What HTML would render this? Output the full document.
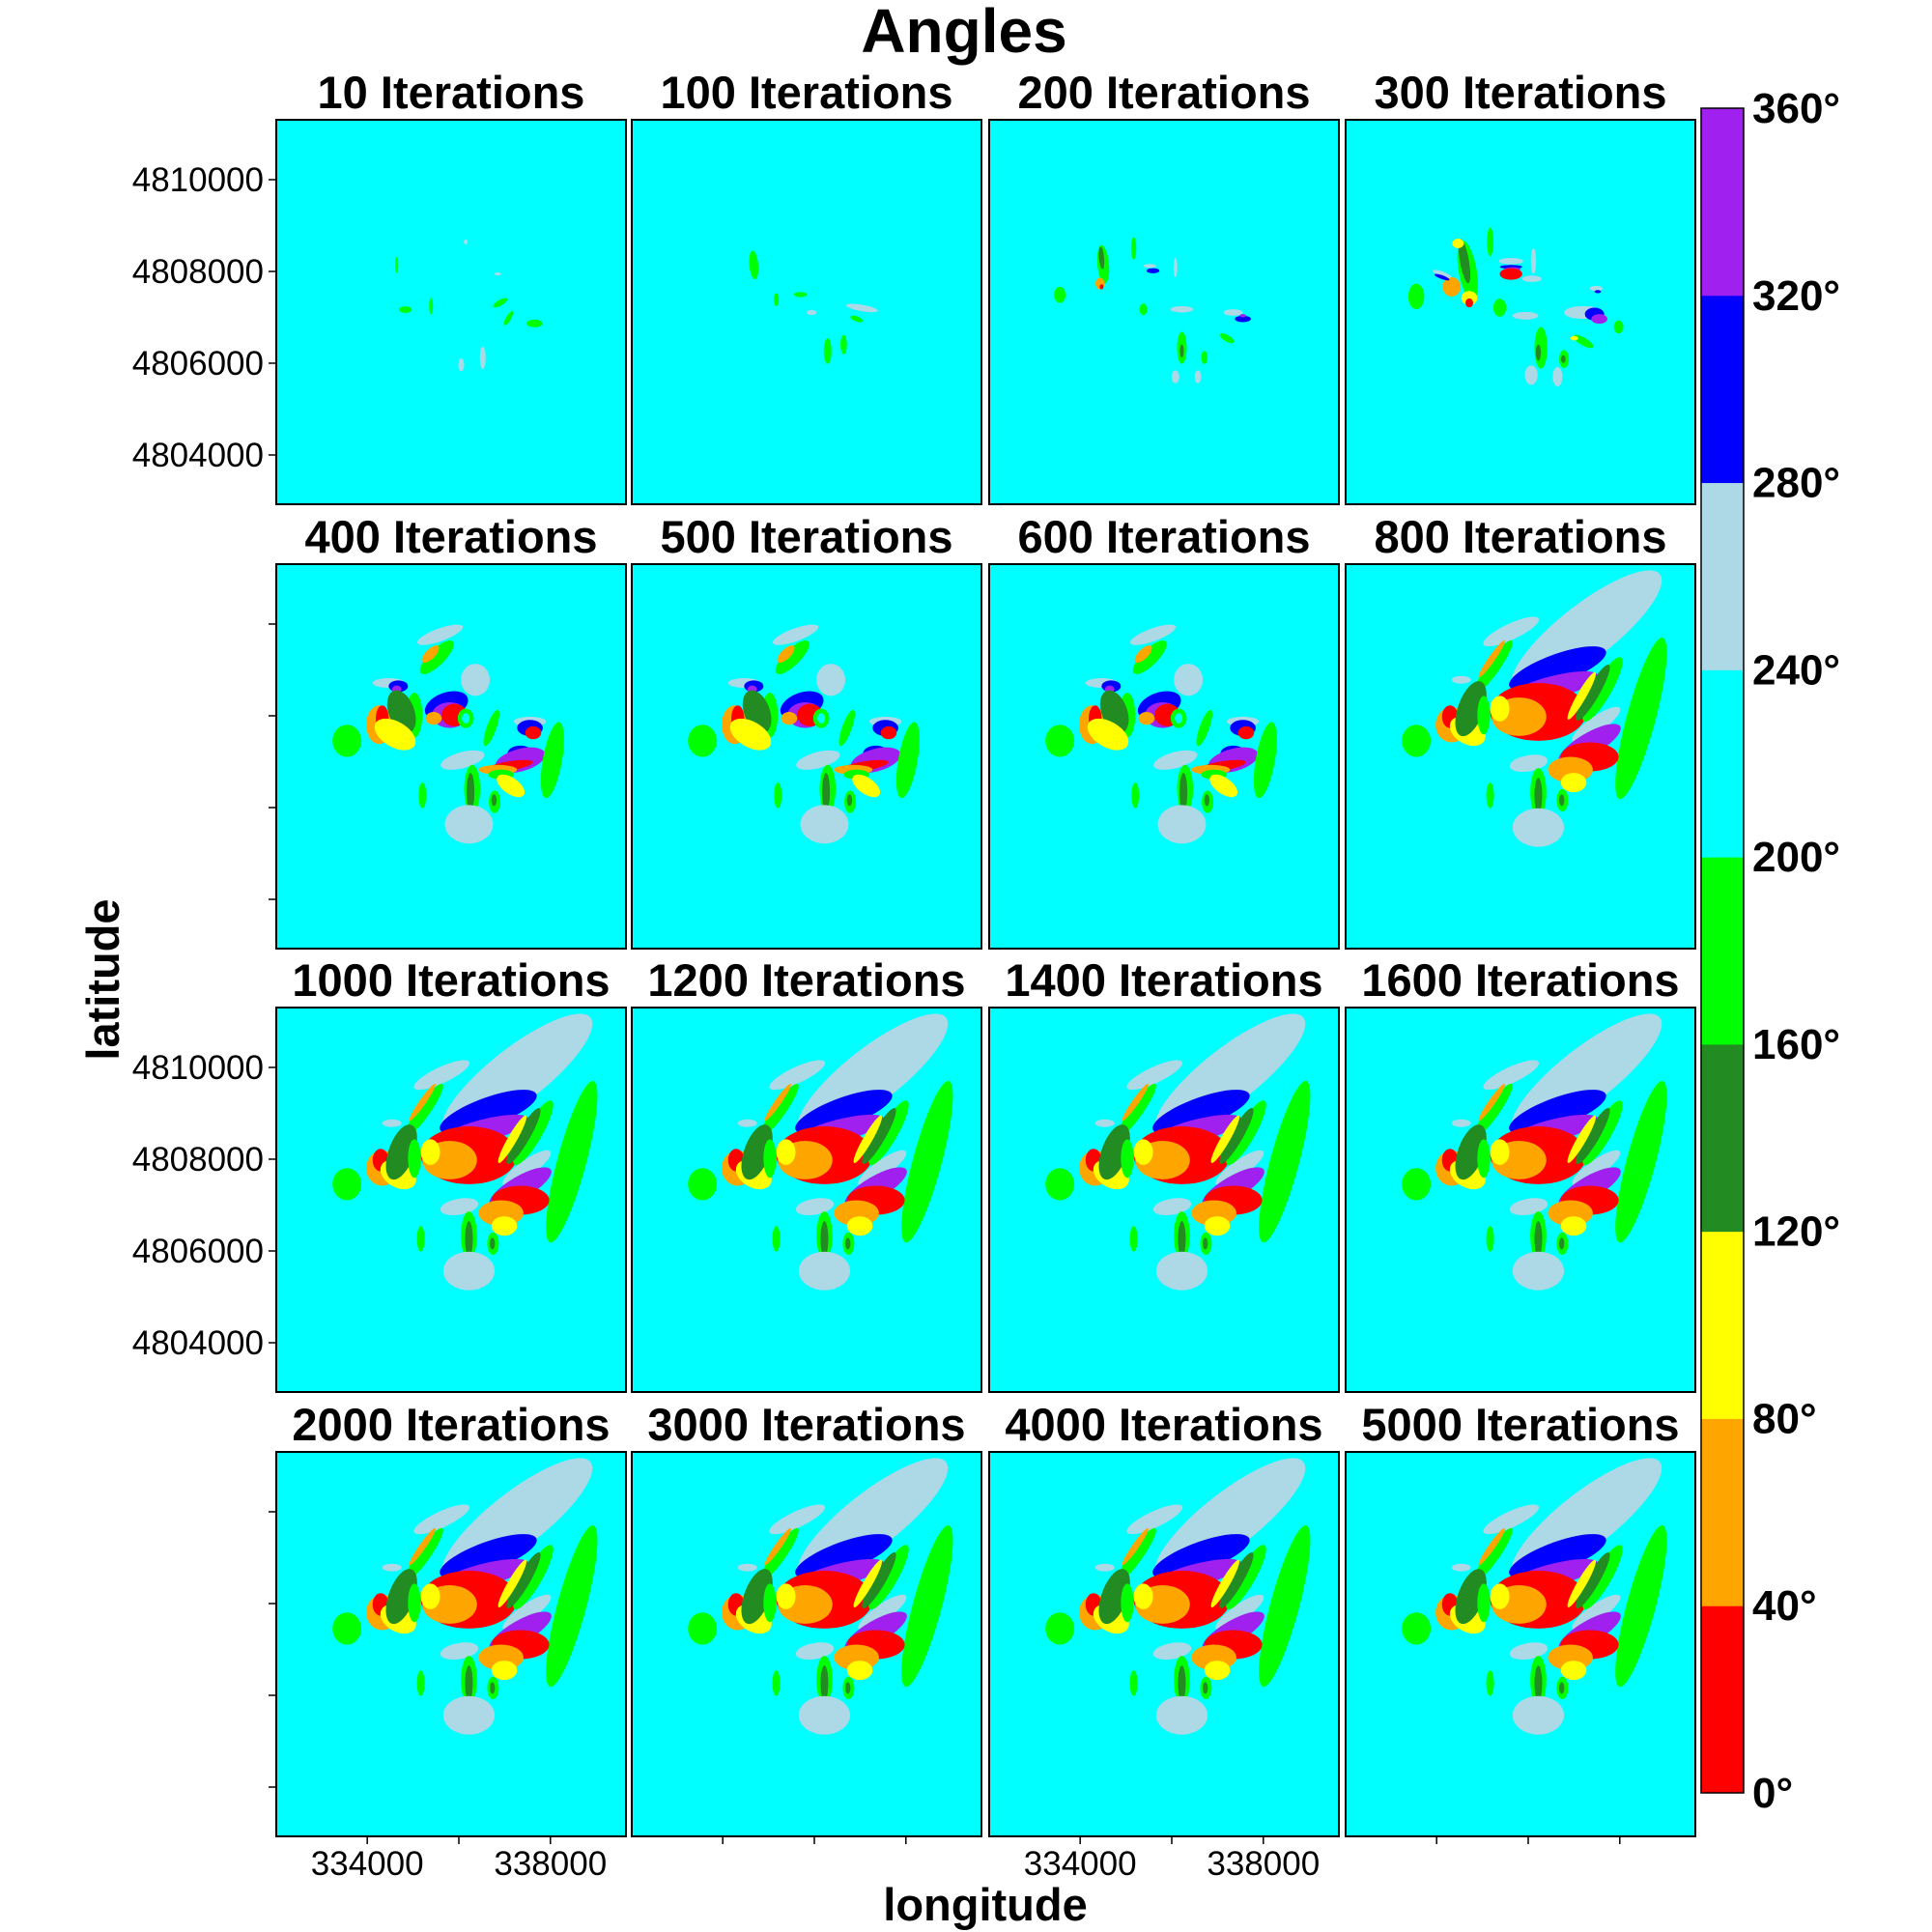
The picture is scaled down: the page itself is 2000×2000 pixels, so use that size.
<!DOCTYPE html>
<html><head><meta charset="utf-8"><style>
html,body{margin:0;padding:0;background:#fff;}
svg{display:block;font-family:"Liberation Sans",Arial,sans-serif;}
</style></head><body>
<svg id="chart" width="2000" height="2000" viewBox="0 0 2000 2000" xmlns="http://www.w3.org/2000/svg">
<text x="998" y="54" text-anchor="middle" font-size="64" font-weight="bold">Angles</text>
<text x="1020" y="1988" text-anchor="middle" font-size="47" font-weight="bold">longitude</text>
<text x="0" y="0" transform="translate(123,1014) rotate(-90)" text-anchor="middle" font-size="47" font-weight="bold">latitude</text>
<g id="panels"></g>
<g id="cbar"></g>
</svg>
<script>
// ---- data ----
const panelTitles = ["10","100","200","300","400","500","600","800","1000","1200","1400","1600","2000","3000","4000","5000"];
const panelStage = ["p10","p100","p200","p300","mid","mid","mid","late","late","late","late","late","late","late","late","late"];
const classColors = ["#FF0000","#FFA500","#FFFF00","#228B22","#00FF00","#00FFFF","#ADD8E6","#0000FF","#A020F0"];
const cbarLabels = ["0°","40°","80°","120°","160°","200°","240°","280°","320°","360°"];
const xTicks = [334000,336000,338000];
const xTickLabels = ["334000","","338000"];
const yTicks = [4810000,4808000,4806000,4804000];
const yTickLabels = ["4810000","4808000","4806000","4804000"];
// blobs: [col,row,rx,ry,angle,class] in raster grid units (1089 x 1197)
const blobsP10 = [[375,452,5,25,0,4],[402,591,20,10,0,4],[482,580,6,25,0,4],[697,570,25,9,-30,4],[723,618,8,25,30,4],[804,634,25,12,0,4],[576,763,9,20,0,6],[643,741,9,35,0,6],[590,380,6,8,0,6],[690,480,10,5,0,6]];
const blobsP100 = [[380,452,14,45,-5,4],[610,720,12,40,0,4],[717,586,50,10,10,6],[525,544,20,8,0,4],[660,700,10,30,0,4],[560,600,15,8,0,6],[450,560,8,20,0,4],[700,620,20,8,20,4]];
const blobsP200 = [[355,450,18,60,-5,4],[350,430,8,35,-5,3],[345,510,14,18,0,1],[350,520,6,8,0,0],[220,545,18,25,0,4],[450,400,8,35,0,4],[500,455,20,6,0,6],[510,470,20,8,0,7],[580,460,6,30,0,6],[600,590,35,10,0,6],[760,600,30,10,0,6],[790,620,25,10,0,7],[790,610,10,5,0,8],[740,680,25,10,30,4],[600,710,15,50,0,4],[600,720,6,20,0,3],[670,740,10,20,0,4],[580,800,12,20,0,6],[650,800,10,20,0,6],[480,590,12,18,0,4]];
const blobsP300 = [[380,470,28,95,-10,4],[370,440,14,70,-10,3],[350,385,18,15,0,2],[330,520,28,30,0,1],[385,555,25,22,0,2],[385,570,12,14,0,0],[300,480,30,8,20,6],[300,490,25,6,20,7],[220,550,25,40,0,4],[450,380,10,45,0,4],[515,440,38,10,0,6],[515,458,35,6,0,7],[520,465,25,6,0,8],[515,480,35,18,0,0],[585,440,8,40,0,6],[580,495,30,10,0,6],[480,585,20,28,0,4],[560,610,40,12,0,6],[740,600,60,20,0,6],[775,605,30,20,0,7],[790,620,25,15,0,8],[850,645,15,20,0,4],[740,690,35,12,30,4],[712,680,12,7,0,2],[608,710,20,65,0,4],[600,725,8,25,0,3],[680,745,15,28,0,4],[678,745,7,12,0,3],[578,795,20,30,0,6],[660,800,15,30,0,6],[780,525,20,8,0,6],[785,535,10,5,0,7]];
const blobsMid = [[510,220,75,20,-20,6],[500,290,70,25,-45,4],[480,280,35,15,-45,1],[620,360,45,50,0,6],[350,370,50,15,0,6],[380,380,30,18,0,7],[375,390,15,12,0,8],[430,470,25,70,0,4],[320,500,40,60,0,1],[330,480,20,40,0,0],[390,460,40,70,-20,3],[370,530,70,40,30,2],[220,550,45,50,0,4],[530,440,70,40,-20,7],[540,470,55,40,0,8],[555,470,40,35,0,0],[490,480,25,20,0,1],[590,480,25,30,0,4],[590,480,12,16,0,5],[670,510,15,60,20,4],[790,490,50,15,0,6],[790,510,40,25,0,7],[800,525,25,20,0,0],[580,610,70,25,-15,6],[760,590,40,25,0,7],[760,610,80,35,-15,8],[720,630,80,15,-10,0],[690,640,60,15,0,1],[700,655,40,15,0,4],[730,690,50,25,35,2],[860,610,120,30,-80,4],[610,700,25,75,0,4],[605,710,12,60,0,3],[455,720,12,40,0,4],[680,740,18,35,0,4],[678,735,8,18,0,3],[600,810,75,60,0,6]];
const blobsLate = [[750,210,290,85,-38,6],[515,210,95,25,-25,6],[920,480,260,45,-75,4],[660,325,160,45,-20,7],[640,385,150,35,-15,8],[600,460,150,90,0,0],[540,475,85,60,0,1],[480,450,30,40,0,2],[780,500,90,25,-35,6],[800,390,115,28,-60,4],[770,400,100,20,-60,3],[735,410,85,14,-60,2],[760,560,110,35,-30,8],[760,600,90,45,0,0],[700,640,70,40,0,1],[710,680,40,30,0,2],[460,320,100,20,-55,4],[455,295,70,10,-55,1],[330,500,50,55,0,1],[325,475,25,35,0,0],[380,520,60,40,30,2],[390,450,90,40,-70,3],[430,470,20,60,0,4],[220,550,45,50,0,4],[570,620,60,25,-10,6],[600,710,25,75,0,4],[600,720,12,55,0,3],[450,720,12,40,0,4],[675,735,18,35,0,4],[673,735,8,18,0,3],[600,820,80,60,0,6],[360,360,30,12,0,6]];
const blobSets = {p10:blobsP10,p100:blobsP100,p200:blobsP200,p300:blobsP300,mid:blobsMid,late:blobsLate};

// ---- layout ----
const colX = [286,654,1024,1393], rowY = [124,584,1043,1503];
const PW = 362, PH = 398;
const E0 = 332013, E1 = 339650, N0 = 4811305, N1 = 4802926;
const GW = 1089, GH = 1197;
const NS = "http://www.w3.org/2000/svg";
function mk(tag, attrs){const e=document.createElementNS(NS,tag);for(const k in attrs)e.setAttribute(k,attrs[k]);return e;}
function xScale(px, e){return px + (e-E0)/(E1-E0)*PW;}
function yScale(py, n){return py + (N0-n)/(N0-N1)*PH;}
function colScale(px,c){return px + c/GW*PW;}
function rowScale(py,r){return py + r/GH*PH;}

const root = document.getElementById('panels');
const defs = mk('defs',{});
root.appendChild(defs);
panelTitles.forEach((t,i)=>{
  const c=i%4, r=Math.floor(i/4), px=colX[c], py=rowY[r];
  const g = mk('g',{});
  
  
  const cp = mk('clipPath',{id:'cp'+i});
  cp.appendChild(mk('rect',{x:px,y:py,width:PW,height:PH}));
  defs.appendChild(cp);
  const bg = mk('rect',{x:px,y:py,width:PW,height:PH,fill:'#00FFFF'});
  
  
  g.appendChild(bg);
  const bl = mk('g',{'clip-path':'url(#cp'+i+')'});
  blobSets[panelStage[i]].forEach(b=>{
    const cx=colScale(px,b[0]), cy=rowScale(py,b[1]);
    const el = mk('ellipse',{cx:cx,cy:cy,rx:b[2]/GW*PW,ry:b[3]/GH*PH,fill:classColors[b[5]],transform:'rotate('+b[4]+' '+cx+' '+cy+')'});
    
    
    bl.appendChild(el);
  });
  g.appendChild(bl);
  g.appendChild(mk('rect',{x:px,y:py,width:PW,height:PH,fill:'none',stroke:'#000','stroke-width':2}));
  const tt = mk('text',{x:px+PW/2,y:py-12,'text-anchor':'middle','font-size':47,'font-weight':'bold'});
  tt.textContent = t+' Iterations';
  
  
  g.appendChild(tt);
  if(c===0){
    yTicks.forEach((v,k)=>{
      const y=yScale(py,v);
      g.appendChild(mk('line',{x1:px-8,x2:px,y1:y,y2:y,stroke:'#000','stroke-width':1.5}));
      if(r%2===0){
        const lt=mk('text',{x:px-13,y:y+12,'text-anchor':'end','font-size':35});
        lt.textContent=yTickLabels[k];
        
        
        g.appendChild(lt);
      }
    });
  }
  if(r===3){
    xTicks.forEach((v,k)=>{
      const x=xScale(px,v);
      g.appendChild(mk('line',{x1:x,x2:x,y1:py+PH,y2:py+PH+8,stroke:'#000','stroke-width':1.5}));
      if(c%2===0 && xTickLabels[k]){
        const lt=mk('text',{x:x,y:py+PH+40,'text-anchor':'middle','font-size':35});
        lt.textContent=xTickLabels[k];
        
        
        g.appendChild(lt);
      }
    });
  }
  root.appendChild(g);
});

// colorbar
const cb = document.getElementById('cbar');
const CX=1761, CW=44, CT=112, CB=1856, bh=(CB-CT)/classColors.length;
classColors.forEach((col,k)=>{
  const rc=mk('rect',{x:CX,y:CB-(k+1)*bh,width:CW,height:bh+0.5,fill:col});
  
  
  cb.appendChild(rc);
});
cb.appendChild(mk('rect',{x:CX,y:CT,width:CW,height:CB-CT,fill:'none',stroke:'#000','stroke-width':1.5}));
cbarLabels.forEach((l,k)=>{
  const y=CB-k*bh;
  const lt=mk('text',{x:1814,y:y+15,'font-size':44,'font-weight':'bold'});
  lt.textContent=l;
  
  
  cb.appendChild(lt);
});
</script>
</body></html>
